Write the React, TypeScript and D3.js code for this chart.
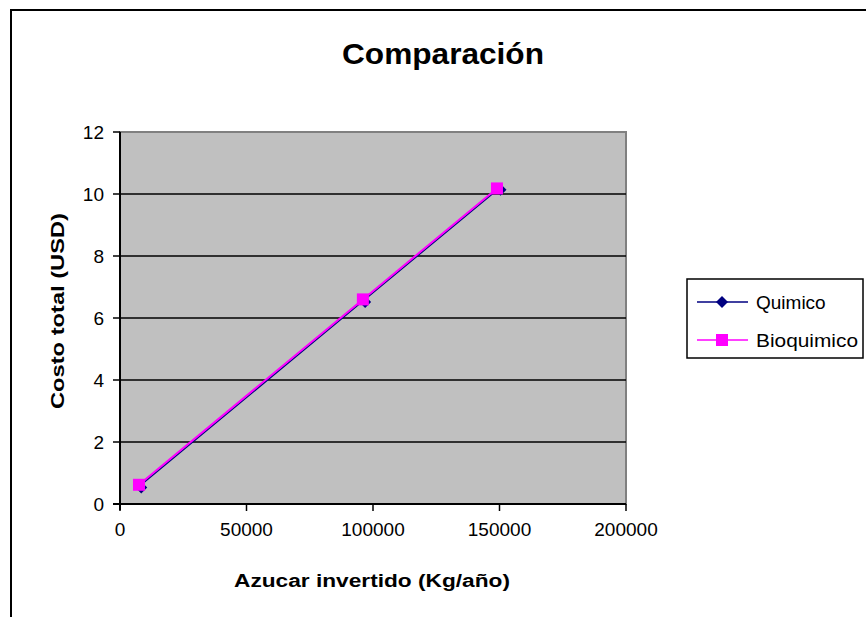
import React from "react";
import * as d3 from "d3";

const seriesNames = ["Quimico", "Bioquimico"];
const quimicoX = [8000, 96500, 150000];
const quimicoY = [0.6, 6.58, 10.2];
const bioquimicoX = [7500, 96000, 149000];
const bioquimicoY = [0.62, 6.6, 10.18];
const xTicks = [0, 50000, 100000, 150000, 200000];
const yTicks = [0, 2, 4, 6, 8, 10, 12];

const W = 866, H = 617;
const FONT = "'Liberation Sans', Arial, sans-serif";

export default function App() {
  const m = { l: 120, r: 626, t: 132, b: 504 };
  const x = d3.scaleLinear().domain([0, 200000]).range([m.l, m.r]);
  const y = d3.scaleLinear().domain([0, 12]).range([m.b, m.t]);
  const line = d3.line<[number, number]>().x(d => x(d[0])).y(d => y(d[1]));
  const q: [number, number][] = quimicoX.map((v, i) => [v, quimicoY[i]]);
  const b: [number, number][] = bioquimicoX.map((v, i) => [v, bioquimicoY[i]]);
  const diamond = (cx: number, cy: number, r = 5) =>
    `M${cx},${cy - r}L${cx + r},${cy}L${cx},${cy + r}L${cx - r},${cy}Z`;

  return (
    <svg width={W} height={H} style={{ position: "absolute", left: 0, top: 0, background: "#fff" }} fontFamily={FONT}>
      <rect x={0} y={0} width={W} height={H} fill="#fff" />
      <path d={`M11,${H}V10H${W}`} fill="none" stroke="#000" strokeWidth={2} />
      <text x={443} y={64} textAnchor="middle" fontSize={30} fontWeight="bold" textLength={202} lengthAdjust="spacingAndGlyphs">Comparación</text>
      <rect x={m.l} y={m.t} width={m.r - m.l} height={m.b - m.t} fill="#c0c0c0" stroke="#808080" strokeWidth={2} />
      {yTicks.filter(t => t > 0 && t < 12).map(t => (
        <line key={t} x1={m.l} x2={m.r} y1={y(t)} y2={y(t)} stroke="#000" strokeWidth={1.5} />
      ))}
      <line x1={m.l} x2={m.l} y1={m.t} y2={m.b + 6} stroke="#000" strokeWidth={2} />
      <line x1={m.l - 7} x2={m.r} y1={m.b} y2={m.b} stroke="#000" strokeWidth={2} />
      {yTicks.map(t => (
        <g key={t}>
          <line x1={m.l - 7} x2={m.l} y1={y(t)} y2={y(t)} stroke="#000" strokeWidth={1.5} />
          <text x={104} y={y(t) + 7} textAnchor="end" fontSize={19}>{t}</text>
        </g>
      ))}
      {xTicks.map(t => (
        <g key={t}>
          <line x1={x(t)} x2={x(t)} y1={m.b} y2={m.b + 7} stroke="#000" strokeWidth={1.5} />
          <text x={x(t)} y={536} textAnchor="middle" fontSize={19}>{t}</text>
        </g>
      ))}
      <text x={372} y={587} textAnchor="middle" fontSize={18} fontWeight="bold" textLength={276} lengthAdjust="spacingAndGlyphs">Azucar invertido (Kg/año)</text>
      <text transform={`translate(64,311) rotate(-90)`} textAnchor="middle" fontSize={18} fontWeight="bold" textLength={196} lengthAdjust="spacingAndGlyphs">Costo total (USD)</text>
      <path d={line(q) || ""} fill="none" stroke="#000080" strokeWidth={1.5} />
      {q.map((d, i) => <path key={i} d={diamond(x(d[0]) + 1, y(d[1]) + 2, 6)} fill="#000080" />)}
      <path d={line(b) || ""} fill="none" stroke="#ff00ff" strokeWidth={2} />
      {b.map((d, i) => <rect key={i} x={x(d[0]) - 6} y={y(d[1]) - 6} width={12} height={12} fill="#ff00ff" />)}
      <rect x={687} y={279} width={176} height={79} fill="#fff" stroke="#000" strokeWidth={1.5} />
      <line x1={697} x2={748} y1={302} y2={302} stroke="#000080" strokeWidth={1.5} />
      <path d={diamond(722, 302, 6)} fill="#000080" />
      <text x={756} y={309} fontSize={19}>{seriesNames[0]}</text>
      <line x1={697} x2={748} y1={340} y2={340} stroke="#ff00ff" strokeWidth={1.5} />
      <rect x={716} y={334} width={12} height={12} fill="#ff00ff" />
      <text x={756} y={347} fontSize={19} textLength={102} lengthAdjust="spacingAndGlyphs">{seriesNames[1]}</text>
    </svg>
  );
}
